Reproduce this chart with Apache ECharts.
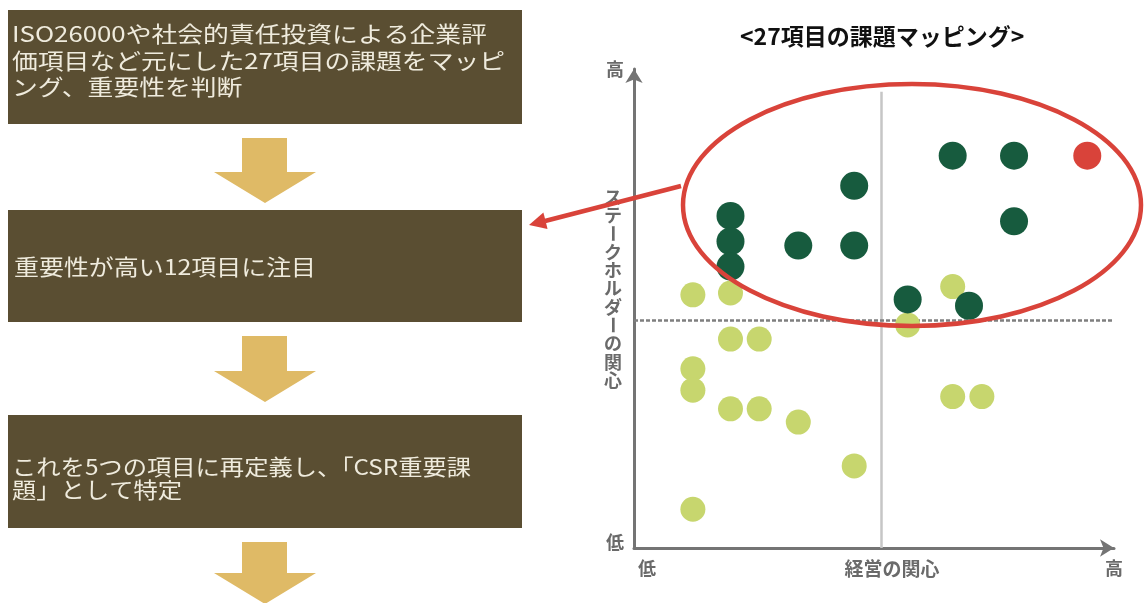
<!DOCTYPE html>
<html><head><meta charset="utf-8">
<script src="https://cdn.jsdelivr.net/npm/echarts@6/dist/echarts.min.js"></script>
<style>html,body{margin:0;padding:0;background:#fff}#c{width:1144px;height:603px}</style>
</head><body><div id="c"></div>
<script>
// ---- data ----
const chartTitle = '<27項目の課題マッピング>';
const xAxisName = '経営の関心';
const yAxisName = 'ステークホルダーの関心';
const xEndLabels = ['低', '高'];
const yEndLabels = ['低', '高'];
const flowSteps = [
  ['ISO26000や社会的責任投資による企業評', '価項目など元にした27項目の課題をマッピ', 'ング、重要性を判断'],
  ['重要性が高い12項目に注目'],
  ['これを5つの項目に再定義し、「CSR重要課', '題」として特定']
];
// [経営の関心, ステークホルダーの関心]
const priorityIssues = [
  [6.44, 8.60], [7.68, 8.60], [4.45, 7.94], [1.95, 7.28], [7.68, 7.16],
  [1.95, 6.72], [3.32, 6.63], [4.45, 6.63], [1.95, 6.17], [5.53, 5.45], [6.77, 5.31]
];
const topIssue = [[9.16, 8.60]];
const otherIssues = [
  [1.19, 5.55], [1.95, 5.59], [6.44, 5.73], [5.53, 4.89], [1.95, 4.58],
  [2.53, 4.58], [1.19, 3.93], [1.19, 3.46], [6.44, 3.32], [7.03, 3.32],
  [1.95, 3.05], [2.53, 3.05], [3.32, 2.76], [4.45, 1.80], [1.19, 0.85]
];
const xMax = 9.7, yMax = 10.5, midValue = 5;

// ---- styles ----
const FONT = '"Noto Sans CJK JP", "Noto Sans", sans-serif';
const AXIS_GRAY = '#747474';
const LABEL_GRAY = '#6a6a6a';
const BOX = '#5a4e32';
const BOX_TEXT = '#efebdd';
const ARROW = '#dfba66';
const RED = '#d9433a';

const chart = echarts.init(document.getElementById('c'));

function downArrow(top, headTop, tip) {
  const c = 265;
  return { type: 'polygon', shape: { points: [
    [c - 23, top], [c + 22, top], [c + 22, headTop], [c + 51, headTop],
    [c, tip], [c - 51, headTop], [c - 23, headTop]
  ] }, style: { fill: ARROW } };
}

const boxes = [
  { y: 10, h: 114, cy: 60.5, lh: 26.5, sx: 1.2, tx: 12 },
  { y: 210, h: 112, cy: 267, lh: 26, sx: 1.16, tx: 14 },
  { y: 415, h: 113, cy: 478, lh: 23, sx: 1.13, tx: 12 }
];
const graphics = [];
boxes.forEach((b, i) => {
  graphics.push({ type: 'rect', shape: { x: 8, y: b.y, width: 514, height: b.h }, style: { fill: BOX } });
  graphics.push({ type: 'text', x: b.tx, y: b.cy, scaleX: b.sx, style: {
    text: flowSteps[i].join('\n'), fontFamily: FONT, fontSize: 21.5, fill: BOX_TEXT,
    align: 'left', verticalAlign: 'middle', lineHeight: b.lh } });
});
graphics.push(downArrow(138, 172, 203));
graphics.push(downArrow(336, 371, 402));
graphics.push(downArrow(542, 573, 604));

// vertical y-axis name (upright stacked characters)
Array.from(yAxisName).forEach((ch, i) => {
  graphics.push({ type: 'text', x: 613, y: 197 + i * 18.3, rotation: ch === 'ー' ? -Math.PI / 2 : 0,
    style: { text: ch, fontFamily: FONT, fontSize: 18, fontWeight: 'bold', fill: LABEL_GRAY,
      align: 'center', verticalAlign: 'middle' } });
});

// red highlight ellipse and pointer
graphics.push({ type: 'ellipse', z: 100, shape: { cx: 912, cy: 205, rx: 229, ry: 121 },
  style: { fill: null, stroke: RED, lineWidth: 4.5 } });
graphics.push({ type: 'line', z: 100, shape: { x1: 681, y1: 186, x2: 545, y2: 221 },
  style: { stroke: RED, lineWidth: 4.5 } });
graphics.push({ type: 'polygon', z: 100, shape: { points: [[529, 225], [547.6, 229], [543.4, 212.5]] },
  style: { fill: RED } });

const endLabelRich = (padLo) => ({
  lo: { padding: padLo, fontSize: 18, fontWeight: 'bold', color: LABEL_GRAY, fontFamily: FONT },
  hi: { fontSize: 18, fontWeight: 'bold', color: LABEL_GRAY, fontFamily: FONT }
});

chart.setOption({
  backgroundColor: '#ffffff',
  animation: false,
  title: { text: chartTitle, left: 740, top: 25, padding: 0,
    textStyle: { fontFamily: FONT, fontSize: 23, fontWeight: 'bold', color: '#111111' } },
  grid: { left: 634, right: 30, top: 69, bottom: 55 },
  xAxis: {
    type: 'value', min: 0, max: xMax, interval: xMax,
    axisLine: { show: true, onZero: false, symbol: ['none', 'arrow'], symbolSize: [13, 14],
      lineStyle: { color: AXIS_GRAY, width: 3 } },
    axisTick: { show: false }, splitLine: { show: false },
    axisLabel: { margin: 11, formatter: v => v === 0 ? '{lo|' + xEndLabels[0] + '}' : '{hi|' + xEndLabels[1] + '}',
      rich: endLabelRich([0, 0, 0, 26]) },
    name: xAxisName, nameLocation: 'middle', nameGap: 11, nameMoveOverlap: false,
    nameTextStyle: { fontFamily: FONT, fontSize: 19, fontWeight: 'bold', color: LABEL_GRAY, padding: [0, 0, 0, 36] }
  },
  yAxis: {
    type: 'value', min: 0, max: yMax, interval: yMax,
    axisLine: { show: true, onZero: false, symbol: ['none', 'arrow'], symbolSize: [13, 14],
      lineStyle: { color: AXIS_GRAY, width: 3 } },
    axisTick: { show: false }, splitLine: { show: false },
    axisLabel: { margin: 10, formatter: v => v === 0 ? '{lo|' + yEndLabels[0] + '}' : '{hi|' + yEndLabels[1] + '}',
      rich: endLabelRich([0, 0, 12, 0]) }
  },
  series: [
    { name: 'その他の課題', type: 'scatter', data: otherIssues, symbolSize: 25, z: 3,
      itemStyle: { color: '#c7d66e', opacity: 1 },
      markLine: { silent: true, symbol: 'none', z: 1, label: { show: false },
        data: [
          [{ coord: [midValue, 0], lineStyle: { color: '#c6c6c6', width: 2.5, type: 'solid' } }, { coord: [midValue, 10] }],
          [{ coord: [0, midValue], lineStyle: { color: '#7f7f7f', width: 2.5, type: [4, 2] } }, { coord: [xMax, midValue] }]
        ] } },
    { name: '重要課題', type: 'scatter', data: priorityIssues, symbolSize: 28, z: 4,
      itemStyle: { color: '#175b3e', opacity: 1 } },
    { name: '最重要課題', type: 'scatter', data: topIssue, symbolSize: 28, z: 5,
      itemStyle: { color: RED, opacity: 1 } }
  ],
  graphic: graphics
});
</script></body></html>
